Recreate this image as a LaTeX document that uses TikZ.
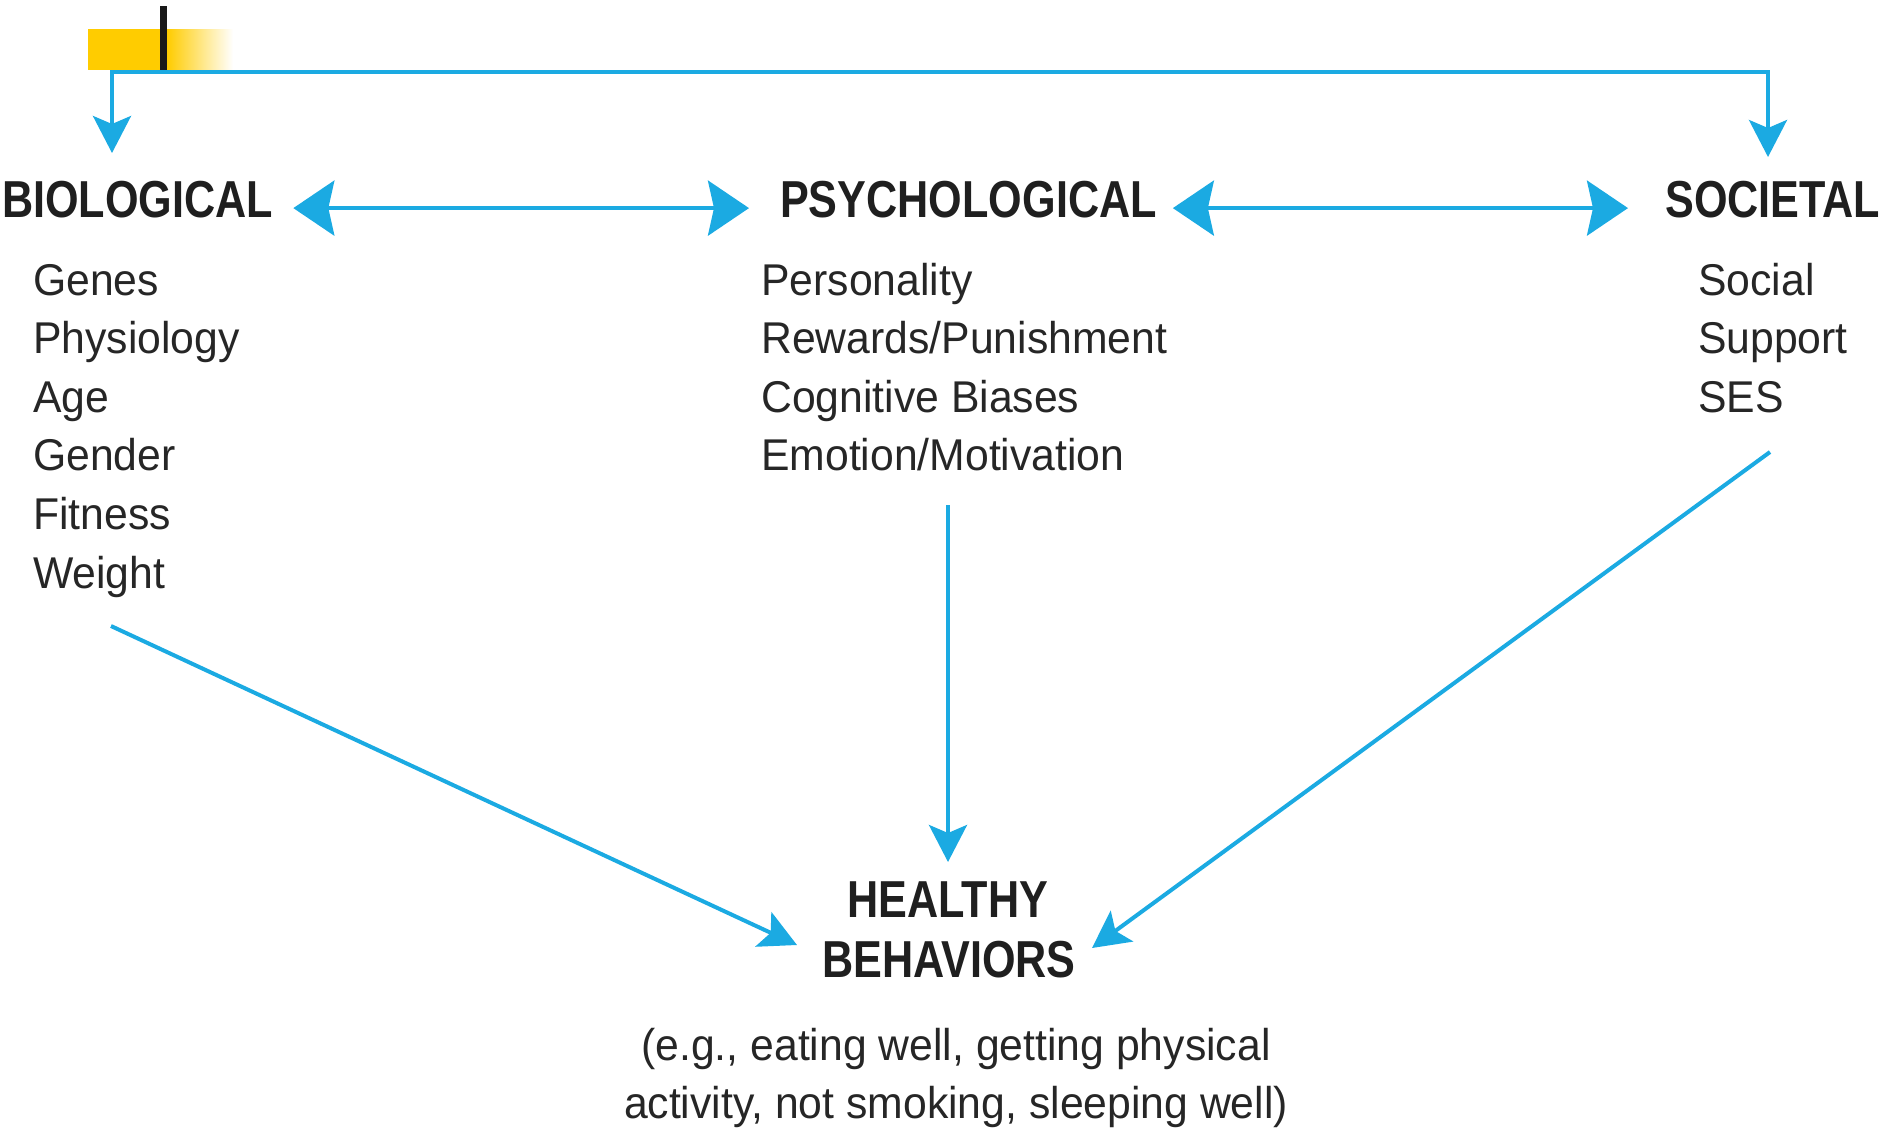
\documentclass[tikz,border=0pt]{standalone}
\usepackage{fontspec}
\usetikzlibrary{arrows.meta}
\setmainfont{Liberation Sans}
\newfontfamily\headfont[FakeStretch=0.83]{Liberation Sans}
\newfontfamily\bodyfont[FakeStretch=0.96]{Liberation Sans}
\definecolor{linkblue}{RGB}{27,170,226}
\definecolor{tabyellow}{RGB}{255,204,0}
\begin{document}
\begin{tikzpicture}[x=1pt,y=-1pt,
  head/.style={inner sep=0pt, font=\headfont\bfseries\fontsize{52}{60}\selectfont, text=black!88},
  item/.style={inner sep=0pt, anchor=base west, font=\bodyfont\fontsize{44.5}{58.5}\selectfont, text=black!85},
  link/.style={draw=linkblue, line width=4pt,
    -{Stealth[length=37pt,width=38pt,inset=8pt]}},
  twoway/.style={draw=linkblue, line width=4pt,
    {Stealth[length=41pt,width=55pt,inset=6pt]}-{Stealth[length=41pt,width=55pt,inset=6pt]}}]
\useasboundingbox (0,0) rectangle (1895,1130);

% corner tab
\fill[tabyellow] (88,29) rectangle (160,70);
\shade[left color=tabyellow, right color=white] (167,29) rectangle (233,70);
\fill[black!90] (160,6) rectangle (167,70);

% headings
\node[head, anchor=base west] (bio) at (2,217) {BIOLOGICAL};
\node[head, anchor=base west] (psy) at (780,217) {PSYCHOLOGICAL};
\node[head, anchor=base west] (soc) at (1665,217) {SOCIETAL};

% factor lists
\foreach [count=\i] \t in {Genes,Physiology,Age,Gender,Fitness,Weight}
  \node[item] (bio\i) at (33,{295+58.6*(\i-1)}) {\t};
\foreach [count=\i] \t in {Personality,Rewards/Punishment,Cognitive Biases,Emotion/Motivation}
  \node[item] (psy\i) at (761,{295+58.6*(\i-1)}) {\t};
\foreach [count=\i] \t in {Social,Support,SES}
  \node[item] (soc\i) at (1698,{295+58.6*(\i-1)}) {\t};

% outcome
\node[head, anchor=base] (hb1) at (948,917) {HEALTHY};
\node[head, anchor=base] (hb2) at (949,977) {BEHAVIORS};
\node[item, anchor=base] (ex1) at (956,1060) {(e.g., eating well, getting physical};
\node[item, anchor=base] (ex2) at (956,1118) {activity, not smoking, sleeping well)};

% connector ends
\coordinate (bioIn) at (112,153);
\coordinate (socIn) at (1768,157);
\coordinate (busL) at (112,72);
\coordinate (busR) at (1768,72);
\coordinate (bioOut) at (111,626);
\coordinate (psyOut) at (948,505);
\coordinate (socOut) at (1770,452);
\coordinate (hbL) at (797,945);
\coordinate (hbT) at (948,862);
\coordinate (hbR) at (1092,948);

% links between the three domains
\draw[link] (busL) -- (busR) -- (socIn);
\draw[link] (busR) -- (busL) -- (bioIn);
\draw[twoway] ([xshift=20pt,yshift=-9pt]bio.east) -- ([xshift=-31pt,yshift=-9pt]psy.west);
\draw[twoway] ([xshift=16pt,yshift=-9pt]psy.east) -- ([xshift=-37pt,yshift=-9pt]soc.west);

% links into healthy behaviours
\draw[link] (bioOut) -- (hbL);
\draw[link] (psyOut) -- (hbT);
\draw[link] (socOut) -- (hbR);
\end{tikzpicture}
\end{document}
